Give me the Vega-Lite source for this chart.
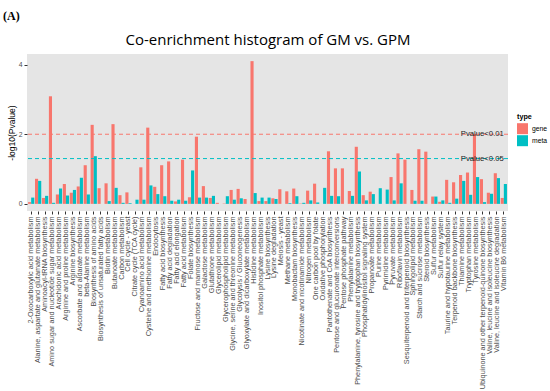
{
  "$schema": "https://vega.github.io/schema/vega-lite/v6.json",
  "width": 481,
  "height": 157,
  "autosize": {"type": "none"},
  "padding": {"left": 27, "top": 54, "right": 42, "bottom": 180},
  "background": "white",
  "title": {"text": "(A)", "anchor": "start", "frame": "group", "dx": -24, "offset": 9, "font": "Liberation Serif", "fontSize": 12, "fontWeight": "bold", "color": "#000000"},
  "config": {
    "view": {"fill": "#E5E5E5", "stroke": null},
    "axis": {"grid": false, "domain": false, "labelFont": "Liberation Sans", "labelFontSize": 6.8, "labelColor": "#4D4D4D", "tickColor": "#333333", "tickSize": 3, "labelPadding": 2, "titleFont": "Liberation Sans", "titleFontWeight": "normal", "titleColor": "#000000"},
    "legend": {"labelFont": "Liberation Sans", "titleFont": "Liberation Sans"}
  },
  "datasets": {
    "bars": [
      {"pathway": "2-Oxocarboxylic acid metabolism", "type": "gene", "value": 0.05},
      {"pathway": "2-Oxocarboxylic acid metabolism", "type": "meta", "value": 0.18},
      {"pathway": "Alanine, aspartate and glutamate metabolism", "type": "gene", "value": 0.72},
      {"pathway": "Alanine, aspartate and glutamate metabolism", "type": "meta", "value": 0.66},
      {"pathway": "Aminoacyl-tRNA biosynthesis", "type": "gene", "value": 0.17},
      {"pathway": "Aminoacyl-tRNA biosynthesis", "type": "meta", "value": 0.23},
      {"pathway": "Amino sugar and nucleotide sugar metabolism", "type": "gene", "value": 3.09},
      {"pathway": "Amino sugar and nucleotide sugar metabolism", "type": "meta", "value": 0.03},
      {"pathway": "Arachidonic acid metabolism", "type": "gene", "value": 0.27},
      {"pathway": "Arachidonic acid metabolism", "type": "meta", "value": 0.44},
      {"pathway": "Arginine and proline metabolism", "type": "gene", "value": 0.57},
      {"pathway": "Arginine and proline metabolism", "type": "meta", "value": 0.24},
      {"pathway": "Arginine biosynthesis", "type": "gene", "value": 0.32},
      {"pathway": "Arginine biosynthesis", "type": "meta", "value": 0.40},
      {"pathway": "Ascorbate and aldarate metabolism", "type": "gene", "value": 0.50},
      {"pathway": "Ascorbate and aldarate metabolism", "type": "meta", "value": 0.75},
      {"pathway": "beta-Alanine metabolism", "type": "gene", "value": 1.11},
      {"pathway": "beta-Alanine metabolism", "type": "meta", "value": 0.27},
      {"pathway": "Biosynthesis of amino acids", "type": "gene", "value": 2.27},
      {"pathway": "Biosynthesis of amino acids", "type": "meta", "value": 1.37},
      {"pathway": "Biosynthesis of unsaturated fatty acids", "type": "gene", "value": 0.45},
      {"pathway": "Biosynthesis of unsaturated fatty acids", "type": "meta", "value": 0},
      {"pathway": "Biotin metabolism", "type": "gene", "value": 0.59},
      {"pathway": "Biotin metabolism", "type": "meta", "value": 0.08},
      {"pathway": "Butanoate metabolism", "type": "gene", "value": 2.29},
      {"pathway": "Butanoate metabolism", "type": "meta", "value": 0.46},
      {"pathway": "Carbon metabolism", "type": "gene", "value": 0.25},
      {"pathway": "Carbon metabolism", "type": "meta", "value": 0.03},
      {"pathway": "Cell cycle - yeast", "type": "gene", "value": 0.33},
      {"pathway": "Cell cycle - yeast", "type": "meta", "value": 0.02},
      {"pathway": "Citrate cycle (TCA cycle)", "type": "gene", "value": 0},
      {"pathway": "Citrate cycle (TCA cycle)", "type": "meta", "value": 0.12},
      {"pathway": "Cyanoamino acid metabolism", "type": "gene", "value": 1.05},
      {"pathway": "Cyanoamino acid metabolism", "type": "meta", "value": 0.12},
      {"pathway": "Cysteine and methionine metabolism", "type": "gene", "value": 2.19},
      {"pathway": "Cysteine and methionine metabolism", "type": "meta", "value": 0.53},
      {"pathway": "Endocytosis", "type": "gene", "value": 0.49},
      {"pathway": "Endocytosis", "type": "meta", "value": 0.28},
      {"pathway": "Fatty acid biosynthesis", "type": "gene", "value": 1.11},
      {"pathway": "Fatty acid biosynthesis", "type": "meta", "value": 0.22},
      {"pathway": "Fatty acid degradation", "type": "gene", "value": 1.22},
      {"pathway": "Fatty acid degradation", "type": "meta", "value": 0.09},
      {"pathway": "Fatty acid elongation", "type": "gene", "value": 0.07},
      {"pathway": "Fatty acid elongation", "type": "meta", "value": 0.12},
      {"pathway": "Fatty acid metabolism", "type": "gene", "value": 1.27},
      {"pathway": "Fatty acid metabolism", "type": "meta", "value": 0.09},
      {"pathway": "Folate biosynthesis", "type": "gene", "value": 0.19},
      {"pathway": "Folate biosynthesis", "type": "meta", "value": 0.96},
      {"pathway": "Fructose and mannose metabolism", "type": "gene", "value": 1.93},
      {"pathway": "Fructose and mannose metabolism", "type": "meta", "value": 0.18},
      {"pathway": "Galactose metabolism", "type": "gene", "value": 0.51},
      {"pathway": "Galactose metabolism", "type": "meta", "value": 0.18},
      {"pathway": "Glutathione metabolism", "type": "gene", "value": 0.17},
      {"pathway": "Glutathione metabolism", "type": "meta", "value": 0.23},
      {"pathway": "Glycerolipid metabolism", "type": "gene", "value": 0.03},
      {"pathway": "Glycerolipid metabolism", "type": "meta", "value": 0},
      {"pathway": "Glycerophospholipid metabolism", "type": "gene", "value": 0.01},
      {"pathway": "Glycerophospholipid metabolism", "type": "meta", "value": 0.22},
      {"pathway": "Glycine, serine and threonine metabolism", "type": "gene", "value": 0.40},
      {"pathway": "Glycine, serine and threonine metabolism", "type": "meta", "value": 0.12},
      {"pathway": "Glycolysis / Gluconeogenesis", "type": "gene", "value": 0.43},
      {"pathway": "Glycolysis / Gluconeogenesis", "type": "meta", "value": 0.16},
      {"pathway": "Glyoxylate and dicarboxylate metabolism", "type": "gene", "value": 0.14},
      {"pathway": "Glyoxylate and dicarboxylate metabolism", "type": "meta", "value": 0},
      {"pathway": "Histidine metabolism", "type": "gene", "value": 4.10},
      {"pathway": "Histidine metabolism", "type": "meta", "value": 0.31},
      {"pathway": "Inositol phosphate metabolism", "type": "gene", "value": 0.08},
      {"pathway": "Inositol phosphate metabolism", "type": "meta", "value": 0.18},
      {"pathway": "Lysine biosynthesis", "type": "gene", "value": 0.08},
      {"pathway": "Lysine biosynthesis", "type": "meta", "value": 0.18},
      {"pathway": "Lysine degradation", "type": "gene", "value": 0.16},
      {"pathway": "Lysine degradation", "type": "meta", "value": 0.14},
      {"pathway": "Meiosis - yeast", "type": "gene", "value": 0.42},
      {"pathway": "Meiosis - yeast", "type": "meta", "value": 0},
      {"pathway": "Methane metabolism", "type": "gene", "value": 0.36},
      {"pathway": "Methane metabolism", "type": "meta", "value": 0.02},
      {"pathway": "Monobactam biosynthesis", "type": "gene", "value": 0.44},
      {"pathway": "Monobactam biosynthesis", "type": "meta", "value": 0.22},
      {"pathway": "Nicotinate and nicotinamide metabolism", "type": "gene", "value": 0.01},
      {"pathway": "Nicotinate and nicotinamide metabolism", "type": "meta", "value": 0.03},
      {"pathway": "Nitrogen metabolism", "type": "gene", "value": 0.38},
      {"pathway": "Nitrogen metabolism", "type": "meta", "value": 0.10},
      {"pathway": "One carbon pool by folate", "type": "gene", "value": 0.58},
      {"pathway": "One carbon pool by folate", "type": "meta", "value": 0.04},
      {"pathway": "Oxidative phosphorylation", "type": "gene", "value": 0},
      {"pathway": "Oxidative phosphorylation", "type": "meta", "value": 0.46},
      {"pathway": "Pantothenate and CoA biosynthesis", "type": "gene", "value": 1.51},
      {"pathway": "Pantothenate and CoA biosynthesis", "type": "meta", "value": 0.23},
      {"pathway": "Pentose and glucuronate interconversions", "type": "gene", "value": 1.02},
      {"pathway": "Pentose and glucuronate interconversions", "type": "meta", "value": 0.22},
      {"pathway": "Pentose phosphate pathway", "type": "gene", "value": 1.02},
      {"pathway": "Pentose phosphate pathway", "type": "meta", "value": 0},
      {"pathway": "Phenylalanine metabolism", "type": "gene", "value": 0.37},
      {"pathway": "Phenylalanine metabolism", "type": "meta", "value": 0.23},
      {"pathway": "Phenylalanine, tyrosine and tryptophan biosynthesis", "type": "gene", "value": 1.64},
      {"pathway": "Phenylalanine, tyrosine and tryptophan biosynthesis", "type": "meta", "value": 0.93},
      {"pathway": "Phosphatidylinositol signaling system", "type": "gene", "value": 0.25},
      {"pathway": "Phosphatidylinositol signaling system", "type": "meta", "value": 0.10},
      {"pathway": "Propanoate metabolism", "type": "gene", "value": 0.35},
      {"pathway": "Propanoate metabolism", "type": "meta", "value": 0.28},
      {"pathway": "Purine metabolism", "type": "gene", "value": 0},
      {"pathway": "Purine metabolism", "type": "meta", "value": 0.45},
      {"pathway": "Pyrimidine metabolism", "type": "gene", "value": 0},
      {"pathway": "Pyrimidine metabolism", "type": "meta", "value": 0.41},
      {"pathway": "Pyruvate metabolism", "type": "gene", "value": 0.77},
      {"pathway": "Pyruvate metabolism", "type": "meta", "value": 0.10},
      {"pathway": "Riboflavin metabolism", "type": "gene", "value": 1.45},
      {"pathway": "Riboflavin metabolism", "type": "meta", "value": 0.59},
      {"pathway": "Sesquiterpenoid and triterpenoid biosynthesis", "type": "gene", "value": 1.27},
      {"pathway": "Sesquiterpenoid and triterpenoid biosynthesis", "type": "meta", "value": 0},
      {"pathway": "Sphingolipid metabolism", "type": "gene", "value": 0.40},
      {"pathway": "Sphingolipid metabolism", "type": "meta", "value": 0.09},
      {"pathway": "Starch and sucrose metabolism", "type": "gene", "value": 1.57},
      {"pathway": "Starch and sucrose metabolism", "type": "meta", "value": 0.09},
      {"pathway": "Steroid biosynthesis", "type": "gene", "value": 1.50},
      {"pathway": "Steroid biosynthesis", "type": "meta", "value": 0},
      {"pathway": "Sulfur metabolism", "type": "gene", "value": 0.21},
      {"pathway": "Sulfur metabolism", "type": "meta", "value": 0.21},
      {"pathway": "Sulfur relay system", "type": "gene", "value": 0.06},
      {"pathway": "Sulfur relay system", "type": "meta", "value": 0.10},
      {"pathway": "Taurine and hypotaurine metabolism", "type": "gene", "value": 0.69},
      {"pathway": "Taurine and hypotaurine metabolism", "type": "meta", "value": 0.03},
      {"pathway": "Terpenoid backbone biosynthesis", "type": "gene", "value": 0.62},
      {"pathway": "Terpenoid backbone biosynthesis", "type": "meta", "value": 0.15},
      {"pathway": "Thiamine metabolism", "type": "gene", "value": 0.83},
      {"pathway": "Thiamine metabolism", "type": "meta", "value": 0.66},
      {"pathway": "Tryptophan metabolism", "type": "gene", "value": 0.90},
      {"pathway": "Tryptophan metabolism", "type": "meta", "value": 0.26},
      {"pathway": "Tyrosine metabolism", "type": "gene", "value": 2.01},
      {"pathway": "Tyrosine metabolism", "type": "meta", "value": 0.77},
      {"pathway": "Ubiquinone and other terpenoid-quinone biosynthesis", "type": "gene", "value": 0.71},
      {"pathway": "Ubiquinone and other terpenoid-quinone biosynthesis", "type": "meta", "value": 0.05},
      {"pathway": "Valine, leucine and isoleucine biosynthesis", "type": "gene", "value": 0.32},
      {"pathway": "Valine, leucine and isoleucine biosynthesis", "type": "meta", "value": 0.29},
      {"pathway": "Valine, leucine and isoleucine degradation", "type": "gene", "value": 0.88},
      {"pathway": "Valine, leucine and isoleucine degradation", "type": "meta", "value": 0.74},
      {"pathway": "Vitamin B6 metabolism", "type": "gene", "value": 0.17},
      {"pathway": "Vitamin B6 metabolism", "type": "meta", "value": 0.57}
    ],
    "thresholds": [
      {"label": "Pvalue<0.01", "cutoff": 2, "type": "gene"},
      {"label": "Pvalue<0.05", "cutoff": 1.301, "type": "meta"}
    ]
  },
  "resolve": {"axis": {"x": "independent"}},
  "layer": [
    {
      "data": {"name": "bars"},
      "mark": {"type": "bar"},
      "encoding": {
        "x": {"field": "pathway", "type": "nominal", "sort": null,
              "scale": {"paddingInner": 0.1, "paddingOuter": 0.15},
              "axis": {"orient": "bottom", "title": null, "labelAngle": -90, "labelOverlap": false, "labelLimit": 400, "labelFontSize": 7.3}},
        "xOffset": {"field": "type", "type": "nominal", "scale": {"paddingInner": 0, "paddingOuter": 0}},
        "y": {"field": "value", "type": "quantitative",
              "scale": {"domain": [-0.205, 4.305], "nice": false, "zero": false},
              "axis": {"title": "-log10(Pvalue)", "values": [0, 1, 2, 3, 4], "titleFontSize": 8.5, "titlePadding": 2}},
        "color": {"field": "type", "type": "nominal",
                  "scale": {"domain": ["gene", "meta"], "range": ["#F8766D", "#00BFC4"]},
                  "legend": {"orient": "none", "legendX": 490, "legendY": 59, "title": "type", "titleFontSize": 7.2, "titleFontWeight": "bold", "titleColor": "#000000", "labelFontSize": 6.8, "labelColor": "#000000", "symbolType": "square", "symbolSize": 121, "symbolStrokeWidth": 0, "rowPadding": 1, "labelOffset": 4, "titlePadding": 3}}
      }
    },
    {
      "data": {"name": "thresholds"},
      "mark": {"type": "rule", "strokeDash": [4, 3], "strokeWidth": 1},
      "encoding": {
        "y": {"field": "cutoff", "type": "quantitative"},
        "stroke": {"field": "type", "type": "nominal", "scale": {"domain": ["gene", "meta"], "range": ["#F8766D", "#00BFC4"]}, "legend": null}
      }
    },
    {
      "data": {"name": "thresholds"},
      "mark": {"type": "text", "align": "right", "baseline": "middle", "font": "Liberation Sans", "fontSize": 7.7, "color": "#222222"},
      "encoding": {
        "x": {"datum": "Vitamin B6 metabolism", "type": "nominal",
              "axis": {"orient": "top", "title": "Co-enrichment histogram of GM vs. GPM", "labels": false, "ticks": false, "domain": false, "titleFont": "Open Sans", "titleFontSize": 15, "titleColor": "#000000", "titlePadding": 7}},
        "y": {"field": "cutoff", "type": "quantitative"},
        "text": {"field": "label"}
      }
    }
  ]
}
